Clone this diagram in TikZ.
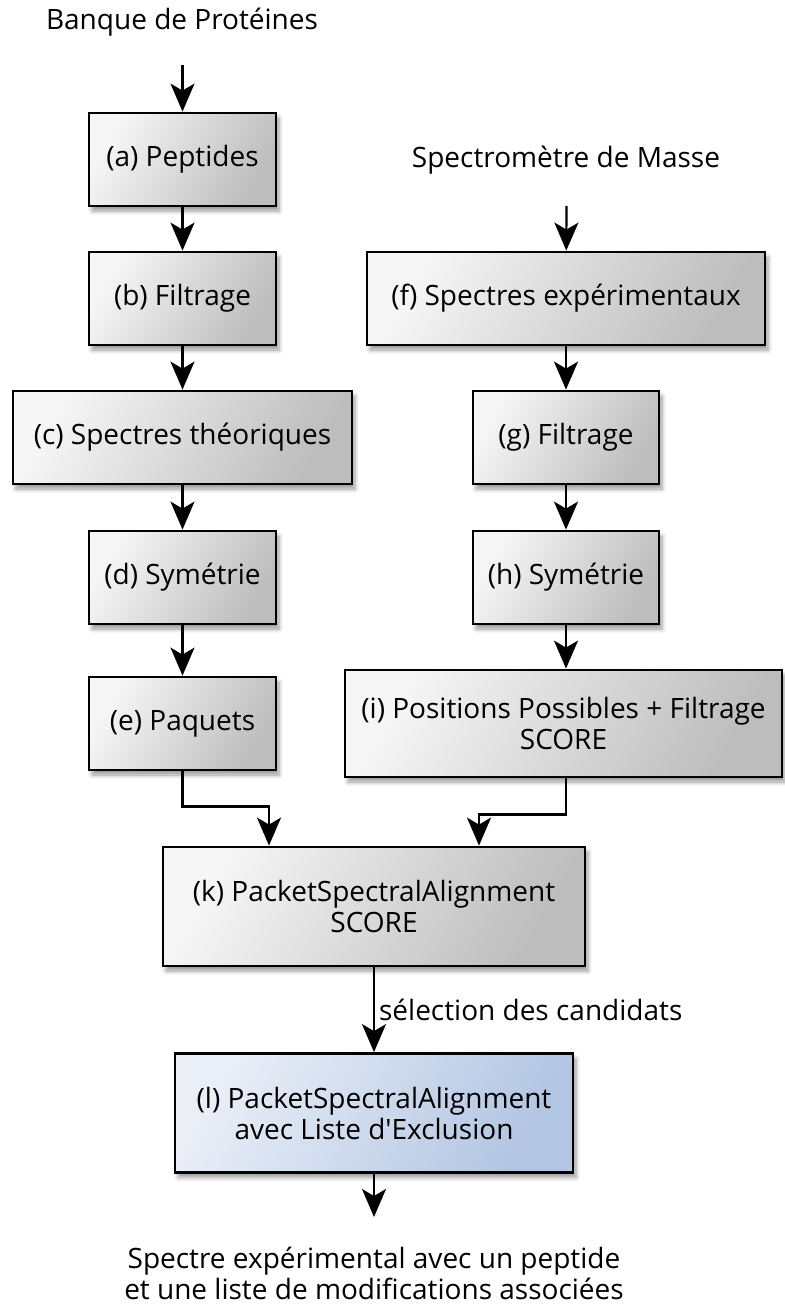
\documentclass[tikz,border=0pt]{standalone}
\usepackage{fontspec}
\setmainfont{Open Sans}
\usepackage{tikz}
\usetikzlibrary{arrows.meta,positioning,shadows.blur}
\definecolor{boxlight}{HTML}{F6F6F6}
\definecolor{boxdark}{HTML}{BDBDBD}
\definecolor{bluelight}{HTML}{E9EEF7}
\definecolor{bluedark}{HTML}{B2C5E2}

\begin{document}
\begin{tikzpicture}[x=0.5pt,y=-0.5pt,font=\fontsize{14}{15.5}\selectfont,
  stage/.style={draw=black,line width=1.4pt,top color=boxlight,bottom color=boxdark,shading angle=60,
    blur shadow={shadow xshift=1.5pt,shadow yshift=-2.5pt,shadow blur steps=6,shadow opacity=40},
    minimum height=46.5pt,inner sep=0pt,align=center},
  final/.style={stage,top color=bluelight,bottom color=bluedark,shading angle=60},
  flow/.style={line width=1.1pt,-{Stealth[length=14pt,width=12pt,inset=3.5pt]}}]
  \useasboundingbox (0,0) rectangle (784,1305);
  \node (bank) at (182,22) {Banque de Protéines};
  \coordinate (bankout) at (182.5,65);
  \node[stage,minimum width=93.5pt] (pep) at (182.5,159.5) {(a) Peptides};
  \node[stage,minimum width=93.5pt] (filtl) at (182.5,298.5) {(b) Filtrage};
  \node[stage,minimum width=169.5pt] (theo) at (182.5,437.5) {(c) Spectres théoriques};
  \node[stage,minimum width=93.5pt] (syml) at (182.5,577.5) {(d) Symétrie};
  \node[stage,minimum width=93.5pt] (paq) at (182.5,723.5) {(e) Paquets};
  \node (ms) at (566,160) {Spectromètre de Masse};
  \coordinate (msout) at (566.5,206);
  \node[stage,minimum width=199pt] (expe) at (566,298.5) {(f) Spectres expérimentaux};
  \node[stage,minimum width=93pt] (filtr) at (566,437.5) {(g) Filtrage};
  \node[stage,minimum width=93pt] (symr) at (566,577.5) {(h) Symétrie};
  \node[stage,minimum width=218.5pt,minimum height=53.5pt] (pos) at (563.5,723.5) {(i) Positions Possibles + Filtrage\\SCORE};
  \node[stage,minimum width=211pt,minimum height=59.5pt] (psa) at (374,906.5) {(k) PacketSpectralAlignment\\SCORE};
  \node[final,minimum width=199pt,minimum height=59.5pt] (psaex) at (374,1113) {(l) PacketSpectralAlignment\\avec Liste d\textquotesingle Exclusion};
  \coordinate (resout) at (374,1217);
  \node[align=center] (result) at (374,1273) {Spectre expérimental avec un peptide\\et une liste de modifications associées};
  \draw[flow] (bankout) -- (pep);
  \draw[flow] (pep) -- (filtl);
  \draw[flow] (filtl) -- (theo);
  \draw[flow] (theo) -- (syml);
  \draw[flow] (syml) -- (paq);
  \draw[flow] (msout) -- (expe);
  \draw[flow] (expe) -- (filtr);
  \draw[flow] (filtr) -- (symr);
  \draw[flow] (symr.south) -- (symr.south |- pos.north);
  \draw[flow] (paq.south) -- ++(0,35) -| ([xshift=-52.5pt]psa.north);
  \draw[flow] (symr.south |- pos.south) -- ++(0,36) -| ([xshift=52.5pt]psa.north);
  \draw[flow] (psa) -- node[right,inner sep=2pt] {sélection des candidats} (psaex);
  \draw[flow] (psaex) -- (resout);
\end{tikzpicture}
\end{document}
